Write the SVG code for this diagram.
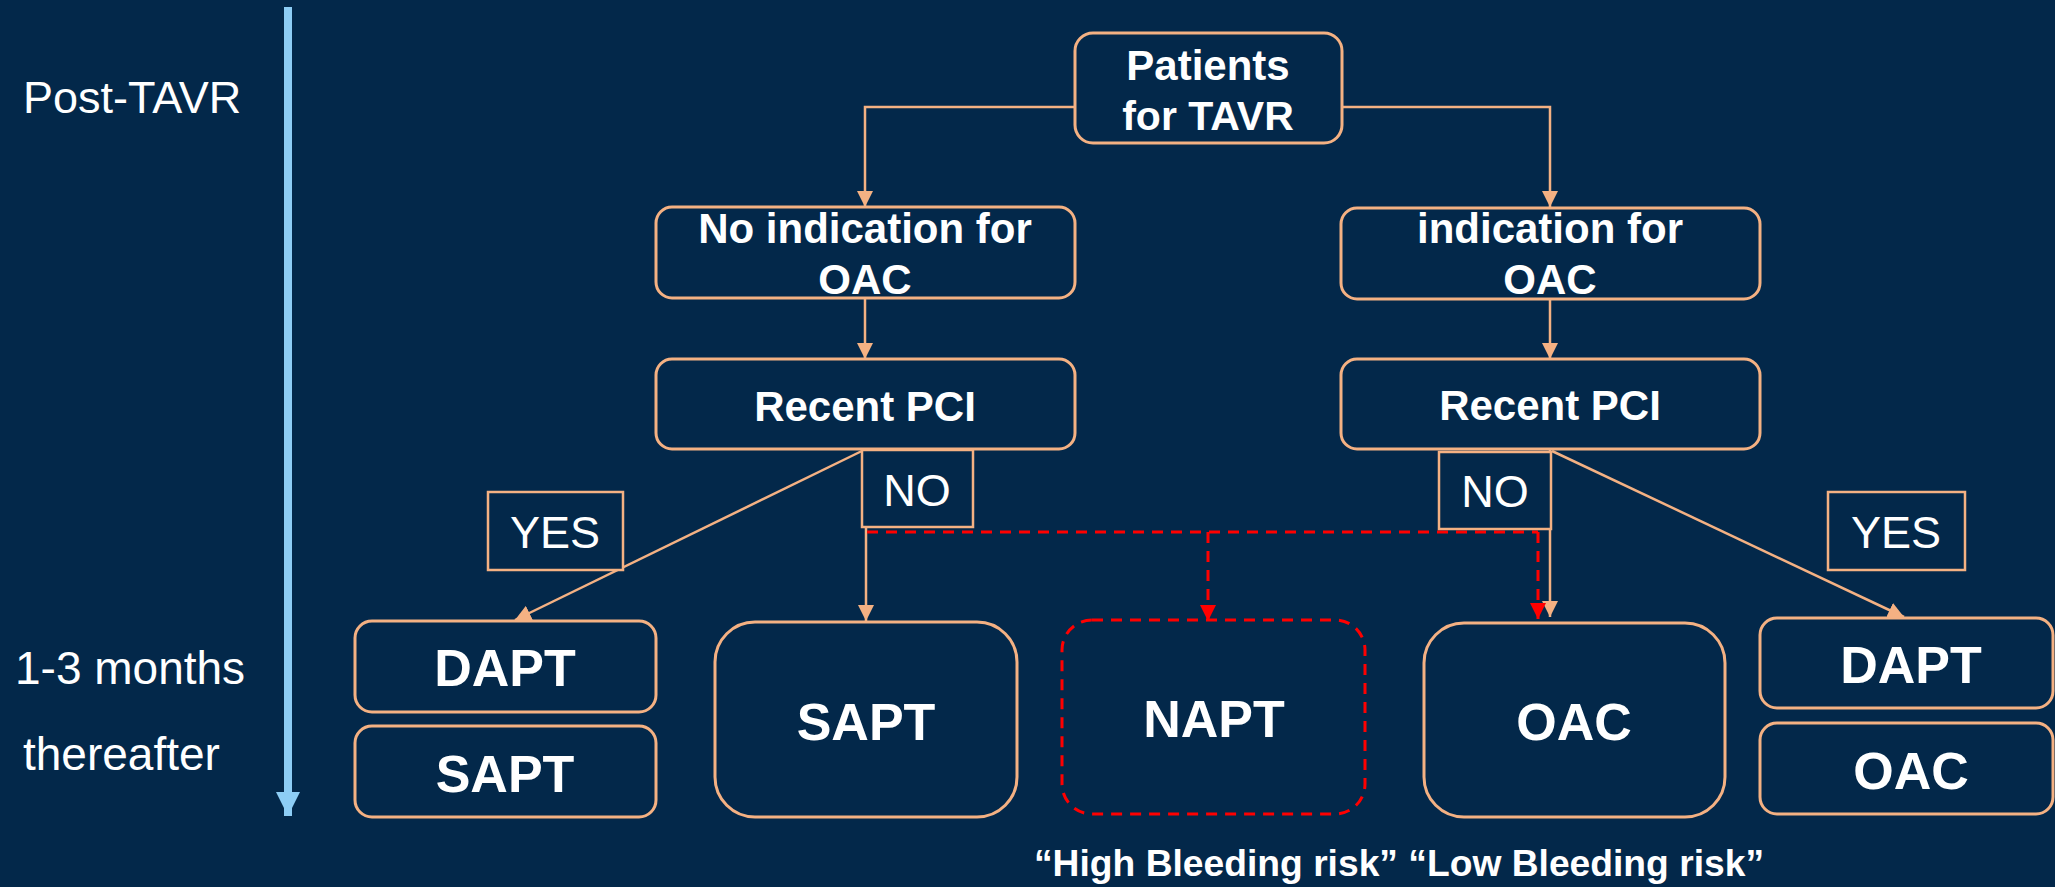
<svg xmlns="http://www.w3.org/2000/svg" width="2055" height="887" viewBox="0 0 2055 887">
<defs>
<style>
.bg{fill:#03284A}
.box{fill:#03284A;stroke:#F4B183;stroke-width:3}
.lbl{fill:#03284A;stroke:#F4B183;stroke-width:2.5}
.dbox{fill:#03284A;stroke:#FF0000;stroke-width:3;stroke-dasharray:11 8}
.t{font-family:"Liberation Sans",Arial,sans-serif;fill:#FFFFFF}
.b{font-weight:bold}
.c{text-anchor:middle}
.con{fill:none;stroke:#F4B183;stroke-width:2.5}
.red{fill:none;stroke:#FF0000;stroke-width:3;stroke-dasharray:11 8}
</style>
<marker id="ao" viewBox="0 0 16 16" refX="16" refY="8" markerWidth="16" markerHeight="16" markerUnits="userSpaceOnUse" orient="auto">
<path d="M0,0 L16,8 L0,16 z" fill="#F4B183"/>
</marker>
<marker id="ar" viewBox="0 0 16 16" refX="16" refY="8" markerWidth="16" markerHeight="16" markerUnits="userSpaceOnUse" orient="auto">
<path d="M0,0 L16,8 L0,16 z" fill="#FF0000"/>
</marker>
<marker id="ab" viewBox="0 0 24 24" refX="24" refY="12" markerWidth="24" markerHeight="24" markerUnits="userSpaceOnUse" orient="auto">
<path d="M0,0 L24,12 L0,24 z" fill="#8DCDF5"/>
</marker>
</defs>
<rect class="bg" x="0" y="0" width="2055" height="887"/>

<g id="timeline">
<line x1="288" y1="7" x2="288" y2="816" stroke="#8DCDF5" stroke-width="8" marker-end="url(#ab)"/>
<text class="t" x="23" y="113" font-size="45">Post-TAVR</text>
<text class="t" x="15" y="684" font-size="46">1-3 months</text>
<text class="t" x="23" y="770" font-size="46">thereafter</text>
</g>

<g id="connectors">
<polyline class="con" points="1075,107 865,107 865,207" marker-end="url(#ao)"/>
<polyline class="con" points="1342,107 1550,107 1550,207" marker-end="url(#ao)"/>
<line class="con" x1="865" y1="299" x2="865" y2="359" marker-end="url(#ao)"/>
<line class="con" x1="1550" y1="299" x2="1550" y2="359" marker-end="url(#ao)"/>
<line class="con" x1="866" y1="449" x2="515" y2="620" marker-end="url(#ao)"/>
<line class="con" x1="866" y1="449" x2="866" y2="621" marker-end="url(#ao)"/>
<line class="con" x1="1550" y1="449" x2="1550" y2="617" marker-end="url(#ao)"/>
<line class="con" x1="1552" y1="451" x2="1904" y2="617" marker-end="url(#ao)"/>
<line class="red" x1="867" y1="532" x2="1538" y2="532"/>
<line class="red" x1="1208" y1="532" x2="1208" y2="621" marker-end="url(#ar)"/>
<line class="red" x1="1538" y1="532" x2="1538" y2="619" marker-end="url(#ar)"/>
</g>

<g id="patients">
<rect class="box" x="1075" y="33" width="267" height="110" rx="18"/>
<text class="t b c" x="1208" y="80" font-size="42">Patients</text>
<text class="t b c" x="1208" y="130" font-size="41">for TAVR</text>
</g>

<g id="no-indication">
<rect class="box" x="656" y="207" width="419" height="91" rx="16"/>
<text class="t b c" x="865" y="243" font-size="42">No indication for</text>
<text class="t b c" x="865" y="294" font-size="42">OAC</text>
</g>

<g id="indication">
<rect class="box" x="1341" y="208" width="419" height="91" rx="16"/>
<text class="t b c" x="1550" y="243" font-size="42">indication for</text>
<text class="t b c" x="1550" y="294" font-size="42">OAC</text>
</g>

<g id="recent-pci-left">
<rect class="box" x="656" y="359" width="419" height="90" rx="16"/>
<text class="t b c" x="865" y="421" font-size="42">Recent PCI</text>
</g>

<g id="recent-pci-right">
<rect class="box" x="1341" y="359" width="419" height="90" rx="16"/>
<text class="t b c" x="1550" y="420" font-size="42">Recent PCI</text>
</g>

<g id="label-no-left">
<rect class="lbl" x="862" y="450" width="111" height="77"/>
<text class="t c" x="917" y="506" font-size="45">NO</text>
</g>

<g id="label-no-right">
<rect class="lbl" x="1439" y="452" width="112" height="77"/>
<text class="t c" x="1495" y="507" font-size="45">NO</text>
</g>

<g id="label-yes-left">
<rect class="lbl" x="488" y="492" width="135" height="78"/>
<text class="t c" x="555" y="548" font-size="45">YES</text>
</g>

<g id="label-yes-right">
<rect class="lbl" x="1828" y="492" width="137" height="78"/>
<text class="t c" x="1896" y="548" font-size="45">YES</text>
</g>

<g id="dapt-left">
<rect class="box" x="355" y="621" width="301" height="91" rx="17"/>
<text class="t b c" x="505" y="686" font-size="52">DAPT</text>
</g>

<g id="sapt-left">
<rect class="box" x="355" y="726" width="301" height="91" rx="17"/>
<text class="t b c" x="505" y="792" font-size="52">SAPT</text>
</g>

<g id="sapt-big">
<rect class="box" x="715" y="622" width="302" height="195" rx="40"/>
<text class="t b c" x="866" y="740" font-size="52">SAPT</text>
</g>

<g id="napt">
<rect class="dbox" x="1062" y="620" width="303" height="194" rx="30"/>
<text class="t b c" x="1214" y="737" font-size="52">NAPT</text>
</g>

<g id="oac-big">
<rect class="box" x="1424" y="623" width="301" height="194" rx="40"/>
<text class="t b c" x="1574" y="740" font-size="52">OAC</text>
</g>

<g id="dapt-right">
<rect class="box" x="1760" y="618" width="293" height="90" rx="17"/>
<text class="t b c" x="1911" y="683" font-size="52">DAPT</text>
</g>

<g id="oac-right">
<rect class="box" x="1760" y="723" width="293" height="91" rx="17"/>
<text class="t b c" x="1911" y="789" font-size="52">OAC</text>
</g>

<g id="bleeding-note">
<text class="t b" x="1034" y="876" font-size="37" textLength="730" lengthAdjust="spacingAndGlyphs">“High Bleeding risk” “Low Bleeding risk”</text>
</g>
</svg>
